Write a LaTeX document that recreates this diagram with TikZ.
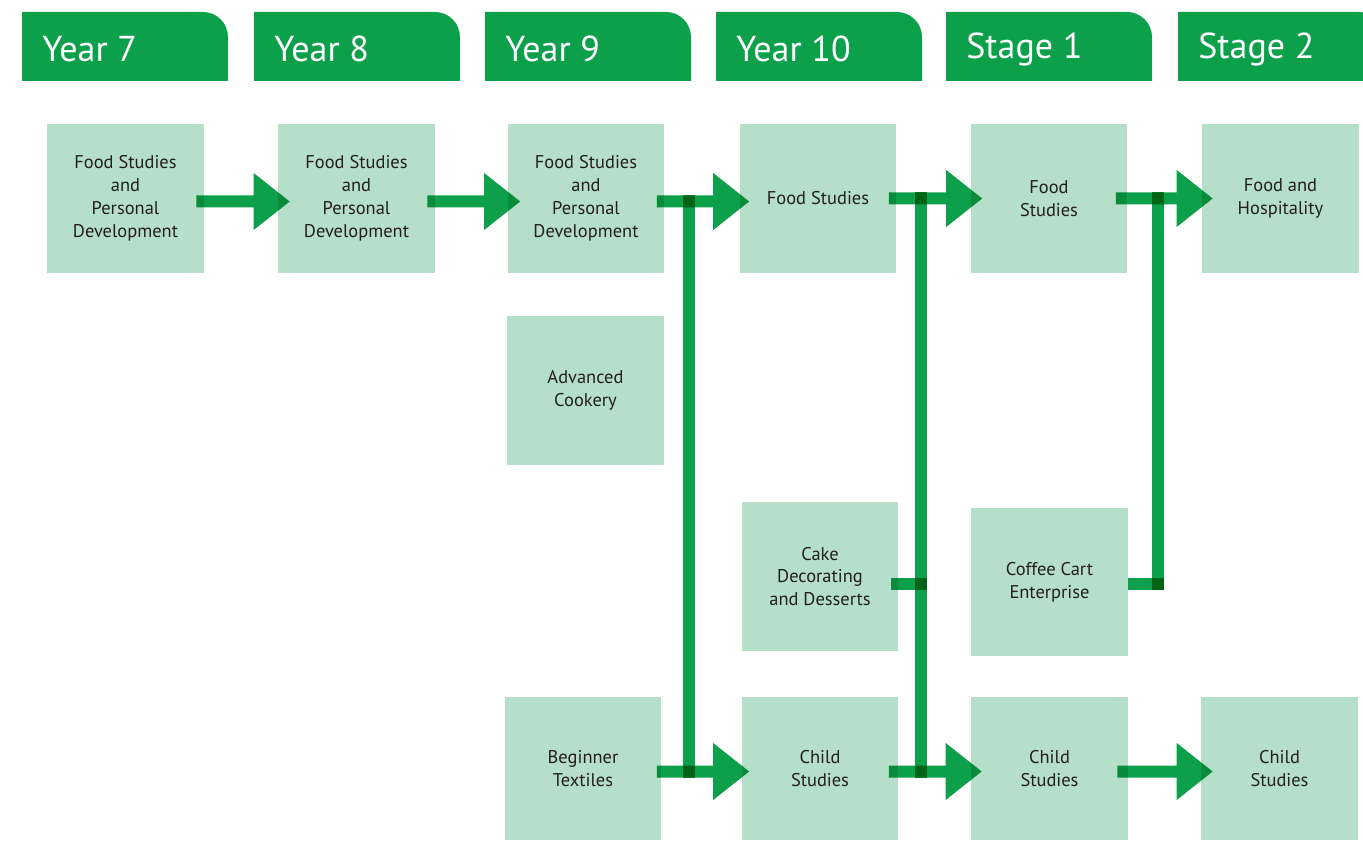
\documentclass[tikz,border=0pt]{standalone}
\usepackage{fontspec}
\setmainfont{PT Sans}
\definecolor{tabgreen}{RGB}{12,160,75}
\definecolor{boxgreen}{RGB}{181,223,200}
\definecolor{labelgray}{RGB}{35,31,32}
\tikzset{
  box/.style={fill=boxgreen, minimum width=3.14cm, minimum height=2.98cm, inner sep=0pt,
    align=center, text=labelgray, font=\fontsize{10.5}{13}\selectfont},
  lowbox/.style={box, minimum height=2.86cm},
  tabtext/.style={anchor=west, text=white, inner sep=0pt, font=\fontsize{20.5}{24}\selectfont},
  flow/.style={fill=tabgreen, blend mode=multiply,
    to path={([yshift=0.12cm]\tikztostart) -- ([xshift=-0.72cm,yshift=0.12cm]\tikztotarget)
      -- ([xshift=-0.72cm,yshift=0.57cm]\tikztotarget) -- (\tikztotarget)
      -- ([xshift=-0.72cm,yshift=-0.57cm]\tikztotarget) -- ([xshift=-0.72cm,yshift=-0.12cm]\tikztotarget)
      -- ([yshift=-0.12cm]\tikztostart) -- cycle}},
  bar/.style={draw=tabgreen, line width=0.24cm, blend mode=multiply}
}
\begin{document}
\begin{tikzpicture}[x=0.02cm, y=-0.02cm]
	\useasboundingbox (0,0) rectangle (1363,841);

	\foreach \x/\lab [count=\i] in {22/Year 7, 254/Year 8, 485/Year 9, 716/Year 10, 946/Stage 1, 1178/Stage 2}{
		\fill[tabgreen] (\x,81) -- (\x,12) -- ++(181,0) arc[start angle=90, end angle=0, radius=0.5cm] |- (\x,81) -- cycle;
		\node[tabtext] (head\i) at (\x+20,49) {\lab};
	}

	\node (fs7)[box] at (125.5,198.5) {Food Studies\\and\\Personal\\Development};
	\node (fs8)[box] at (356.5,198.5) {Food Studies\\and\\Personal\\Development};
	\node (fs9)[box] at (586,198.5) {Food Studies\\and\\Personal\\Development};
	\node (fs10)[box] at (818,198.5) {Food Studies};
	\node (fs1)[box] at (1049,198.5) {Food\\Studies};
	\node (fh2)[box] at (1280.5,198.5) {Food and\\Hospitality};

	\node (adv)[box] at (585.5,390.5) {Advanced\\Cookery};
	\node (cake)[box] at (820,576.5) {Cake\\Decorating\\and Desserts};
	\node (coffee)[box, minimum height=2.96cm] at (1049.5,582) {Coffee Cart\\Enterprise};

	\node (tex)[lowbox] at (583,768.5) {Beginner\\Textiles};
	\node (cs10)[lowbox] at (820,768.5) {Child\\Studies};
	\node (cs1)[lowbox] at (1049.5,768.5) {Child\\Studies};
	\node (cs2)[lowbox] at (1279.5,768.5) {Child\\Studies};

	\coordinate (j9top) at (688.5,195.5);
	\coordinate (j9bot) at (688.5,777.5);
	\coordinate (j10top) at (921,192.5);
	\coordinate (j10bot) at (921,777.5);
	\coordinate (j10mid) at (927,584);
	\coordinate (j1top) at (1158,192.5);
	\coordinate (j1bot) at (1158,590);
	\coordinate (j1mid) at (1164,584);

	\fill[flow] ([xshift=-0.16cm,yshift=-0.06cm]fs7.east) to ([xshift=0.24cm,yshift=-0.06cm]fs8.west);
	\fill[flow] ([xshift=-0.16cm,yshift=-0.06cm]fs8.east) to ([xshift=0.26cm,yshift=-0.06cm]fs9.west);
	\fill[flow] ([xshift=-0.16cm,yshift=-0.06cm]fs9.east) to ([xshift=0.2cm,yshift=-0.06cm]fs10.west);
	\fill[flow] ([xshift=-0.16cm]fs10.east) to ([xshift=0.24cm]fs1.west);
	\fill[flow] ([xshift=-0.24cm]fs1.east) to ([xshift=0.22cm]fh2.west);
	\fill[flow] ([xshift=-0.1cm,yshift=-0.06cm]tex.east) to ([xshift=0.16cm,yshift=-0.06cm]cs10.west);
	\fill[flow] ([xshift=-0.2cm,yshift=-0.06cm]cs10.east) to ([xshift=0.22cm,yshift=-0.06cm]cs1.west);
	\fill[flow] ([xshift=-0.22cm,yshift=-0.06cm]cs1.east) to ([xshift=0.24cm,yshift=-0.06cm]cs2.west);

	\draw[bar] (j9top) -- (j9bot);
	\draw[bar] (j10top) -- (j10bot);
	\draw[bar] (j1top) -- (j1bot);
	\draw[bar] ([xshift=-0.16cm]cake.east |- j10mid) -- (j10mid);
	\draw[bar] (coffee.east |- j1mid) -- (j1mid);
\end{tikzpicture}
\end{document}
